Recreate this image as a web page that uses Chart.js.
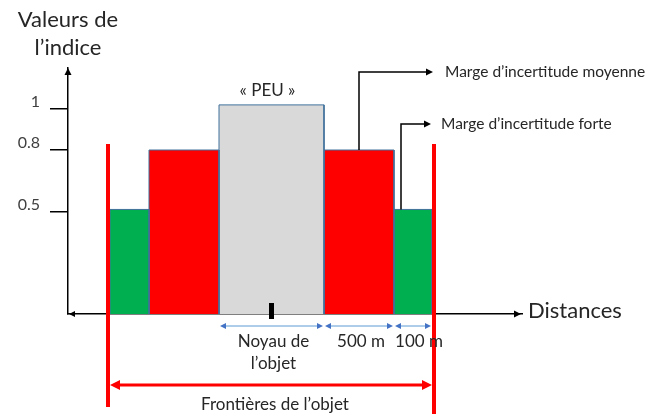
<!DOCTYPE html>
<html><head><meta charset="utf-8">
<script src="https://cdn.jsdelivr.net/npm/chart.js@4.4.1/dist/chart.umd.min.js"></script>
<style>html,body{margin:0;padding:0;background:#fff;}</style>
</head><body>
<canvas id="c" width="657" height="414" style="width:657px;height:414px;display:block"></canvas>
<script>
// Segments along the distance axis (arbitrary distance units from the y axis)
const segmentNames  = ['Marge forte', 'Marge moyenne', 'Noyau (PEU)', 'Marge moyenne', 'Marge forte'];
const segmentStart  = [42, 81, 151, 256, 326];
const segmentEnd    = [81, 151, 256, 326, 364];
const indexValues   = [0.51, 0.8, 1.02, 0.8, 0.51];
const segmentColors = ['#00B050', '#FF0000', '#D9D9D9', '#FF0000', '#00B050'];
const yTickValues   = [0.5, 0.8, 1];
const objectBounds  = [40, 366];
const distanceLabels = [null, null, ['Noyau de', 'l\u2019objet'], ['500 m'], ['100 m']];
const calloutSegments = [3, 4];
const calloutTexts = ['Marge d\u2019incertitude moyenne', 'Marge d\u2019incertitude forte'];
const calloutLevels = [1.18, 0.927];

const FONT = 'Lato, "Open Sans", sans-serif';
const TXT = '#262626';

function arrowHead(ctx, x, y, dir, len, half, color) {
  ctx.save();
  ctx.fillStyle = color;
  ctx.beginPath();
  if (dir === 'up') { ctx.moveTo(x, y); ctx.lineTo(x - half, y + len); ctx.lineTo(x + half, y + len); }
  if (dir === 'right') { ctx.moveTo(x, y); ctx.lineTo(x - len, y - half); ctx.lineTo(x - len, y + half); }
  if (dir === 'left') { ctx.moveTo(x, y); ctx.lineTo(x + len, y - half); ctx.lineTo(x + len, y + half); }
  ctx.closePath();
  ctx.fill();
  ctx.restore();
}
function line(ctx, pts, color, w) {
  ctx.save();
  ctx.strokeStyle = color; ctx.lineWidth = w;
  ctx.beginPath();
  ctx.moveTo(pts[0][0], pts[0][1]);
  for (let i = 1; i < pts.length; i++) ctx.lineTo(pts[i][0], pts[i][1]);
  ctx.stroke();
  ctx.restore();
}

const decorations = {
  id: 'decorations',
  afterDatasetsDraw(chart) {
    const {ctx, chartArea: a, scales: {x, y}} = chart;
    const X = v => x.getPixelForValue(v), Y = v => y.getPixelForValue(v);
    // red object boundaries
    const topY = Y(indexValues[1]) - 6;
    line(ctx, [[X(objectBounds[0]), topY], [X(objectBounds[0]), chart.height - 7]], '#FF0000', 4);
    line(ctx, [[X(objectBounds[1]), topY], [X(objectBounds[1]), chart.height]], '#FF0000', 4);
    // core marker
    const cx = X((segmentStart[2] + segmentEnd[2]) / 2);
    ctx.fillStyle = '#000';
    ctx.fillRect(cx - 2.5, a.bottom - 11, 5, 16);
  },
  afterDraw(chart) {
    const {ctx, chartArea: a, scales: {x, y}} = chart;
    const X = v => x.getPixelForValue(v), Y = v => y.getPixelForValue(v);
    ctx.save();
    // axis arrow heads
    arrowHead(ctx, a.left, a.top, 'up', 7, 3.5, '#000');
    arrowHead(ctx, a.right - 1, a.bottom, 'right', 7, 3.5, '#000');
    arrowHead(ctx, a.left + 1, a.bottom, 'left', 6, 3, '#000');
    // title
    ctx.fillStyle = TXT;
    ctx.textBaseline = 'middle';
    ctx.textAlign = 'center';
    ctx.font = '22px ' + FONT;
    ctx.fillText('Valeurs de', a.left, 20);
    ctx.fillText('l\u2019indice', a.left, 48);
    ctx.textAlign = 'left';
    ctx.fillText('Distances', a.right + 6, a.bottom - 3);
    // PEU
    ctx.textAlign = 'center';
    ctx.font = '17px ' + FONT;
    const cx = X((segmentStart[2] + segmentEnd[2]) / 2);
    ctx.fillText('\u00AB PEU \u00BB', cx - 4, Y(indexValues[2]) - 14);
    // callouts
    calloutSegments.forEach((si, k) => {
      const lx = k === 0 ? X((segmentStart[si] + segmentEnd[si]) / 2) : X(segmentStart[si]) + 7;
      const ly = Y(calloutLevels[k]);
      const tip = X(objectBounds[1]) - 1 - k * 2;
      line(ctx, [[lx, Y(indexValues[si])], [lx, ly], [tip - 6, ly]], '#000', 1.5);
      arrowHead(ctx, tip, ly, 'right', 7, 3.5, '#000');
      ctx.fillStyle = TXT;
      ctx.textAlign = 'left';
      ctx.font = '15.5px ' + FONT;
      ctx.fillText(calloutTexts[k], tip + 12 - k * 2, ly);
    });
    // distance dimension arrows
    const dimY = a.bottom + 12;
    ctx.font = '17px ' + FONT;
    ctx.textAlign = 'center';
    distanceLabels.forEach((lab, i) => {
      if (!lab) return;
      const x0 = X(segmentStart[i]) + 1, x1 = X(segmentEnd[i]) - 1;
      line(ctx, [[x0 + 3, dimY], [x1 - 3, dimY]], '#5B9BD5', 1);
      arrowHead(ctx, x0, dimY, 'left', 6, 3, '#4472C4');
      arrowHead(ctx, x1, dimY, 'right', 6, 3, '#4472C4');
      const mx = (x0 + x1) / 2 + (i === 4 ? 6 : 2);
      ctx.fillStyle = TXT;
      lab.forEach((t, j) => ctx.fillText(t, mx, dimY + 16 + j * 22));
    });
    // object frontier arrow
    const fy = a.bottom + 71;
    const fl = X(objectBounds[0]) + 2, fr = X(objectBounds[1]) - 2;
    line(ctx, [[fl + 8, fy], [fr - 8, fy]], '#FF0000', 3);
    arrowHead(ctx, fl, fy, 'left', 10, 5, '#FF0000');
    arrowHead(ctx, fr, fy, 'right', 10, 5, '#FF0000');
    ctx.fillStyle = TXT;
    ctx.fillText('Fronti\u00E8res de l\u2019objet', (fl + fr) / 2 + 4, fy + 20);
    ctx.restore();
  }
};

const datasets = segmentNames.map((name, i) => ({
  label: name,
  data: [
    {x: segmentStart[i], y: 0},
    {x: segmentStart[i], y: indexValues[i]},
    {x: segmentEnd[i], y: indexValues[i]},
    {x: segmentEnd[i], y: 0}
  ],
  showLine: true,
  fill: 'origin',
  backgroundColor: segmentColors[i],
  borderColor: '#41719C',
  borderWidth: 1,
  pointRadius: 0,
  pointHoverRadius: 0,
  tension: 0,
  clip: false
}));

new Chart(document.getElementById('c'), {
  type: 'scatter',
  data: {datasets},
  options: {
    responsive: false,
    animation: false,
    devicePixelRatio: 1,
    layout: {padding: {top: 68, right: 135, left: 0, bottom: 0}},
    plugins: {legend: {display: false}, tooltip: {enabled: false}, title: {display: false}},
    scales: {
      x: {
        type: 'linear', min: 0, max: 454,
        grid: {display: false},
        ticks: {display: false},
        border: {display: true, color: '#000', width: 1.5},
        afterFit(s) { s.height = 100; }
      },
      y: {
        type: 'linear', min: 0, max: 1.2,
        afterBuildTicks(s) { s.ticks = yTickValues.map(v => ({value: v})); },
        grid: {drawOnChartArea: false, drawTicks: true, tickLength: 18, color: '#000', lineWidth: 1.5},
        border: {display: true, color: '#000', width: 1.5},
        ticks: {padding: 10, labelOffset: -7, color: '#404040', font: {family: FONT, size: 16}, callback: v => String(v)},
        afterFit(s) { s.width = 68; }
      }
    }
  },
  plugins: [decorations]
});
</script>
</body></html>
